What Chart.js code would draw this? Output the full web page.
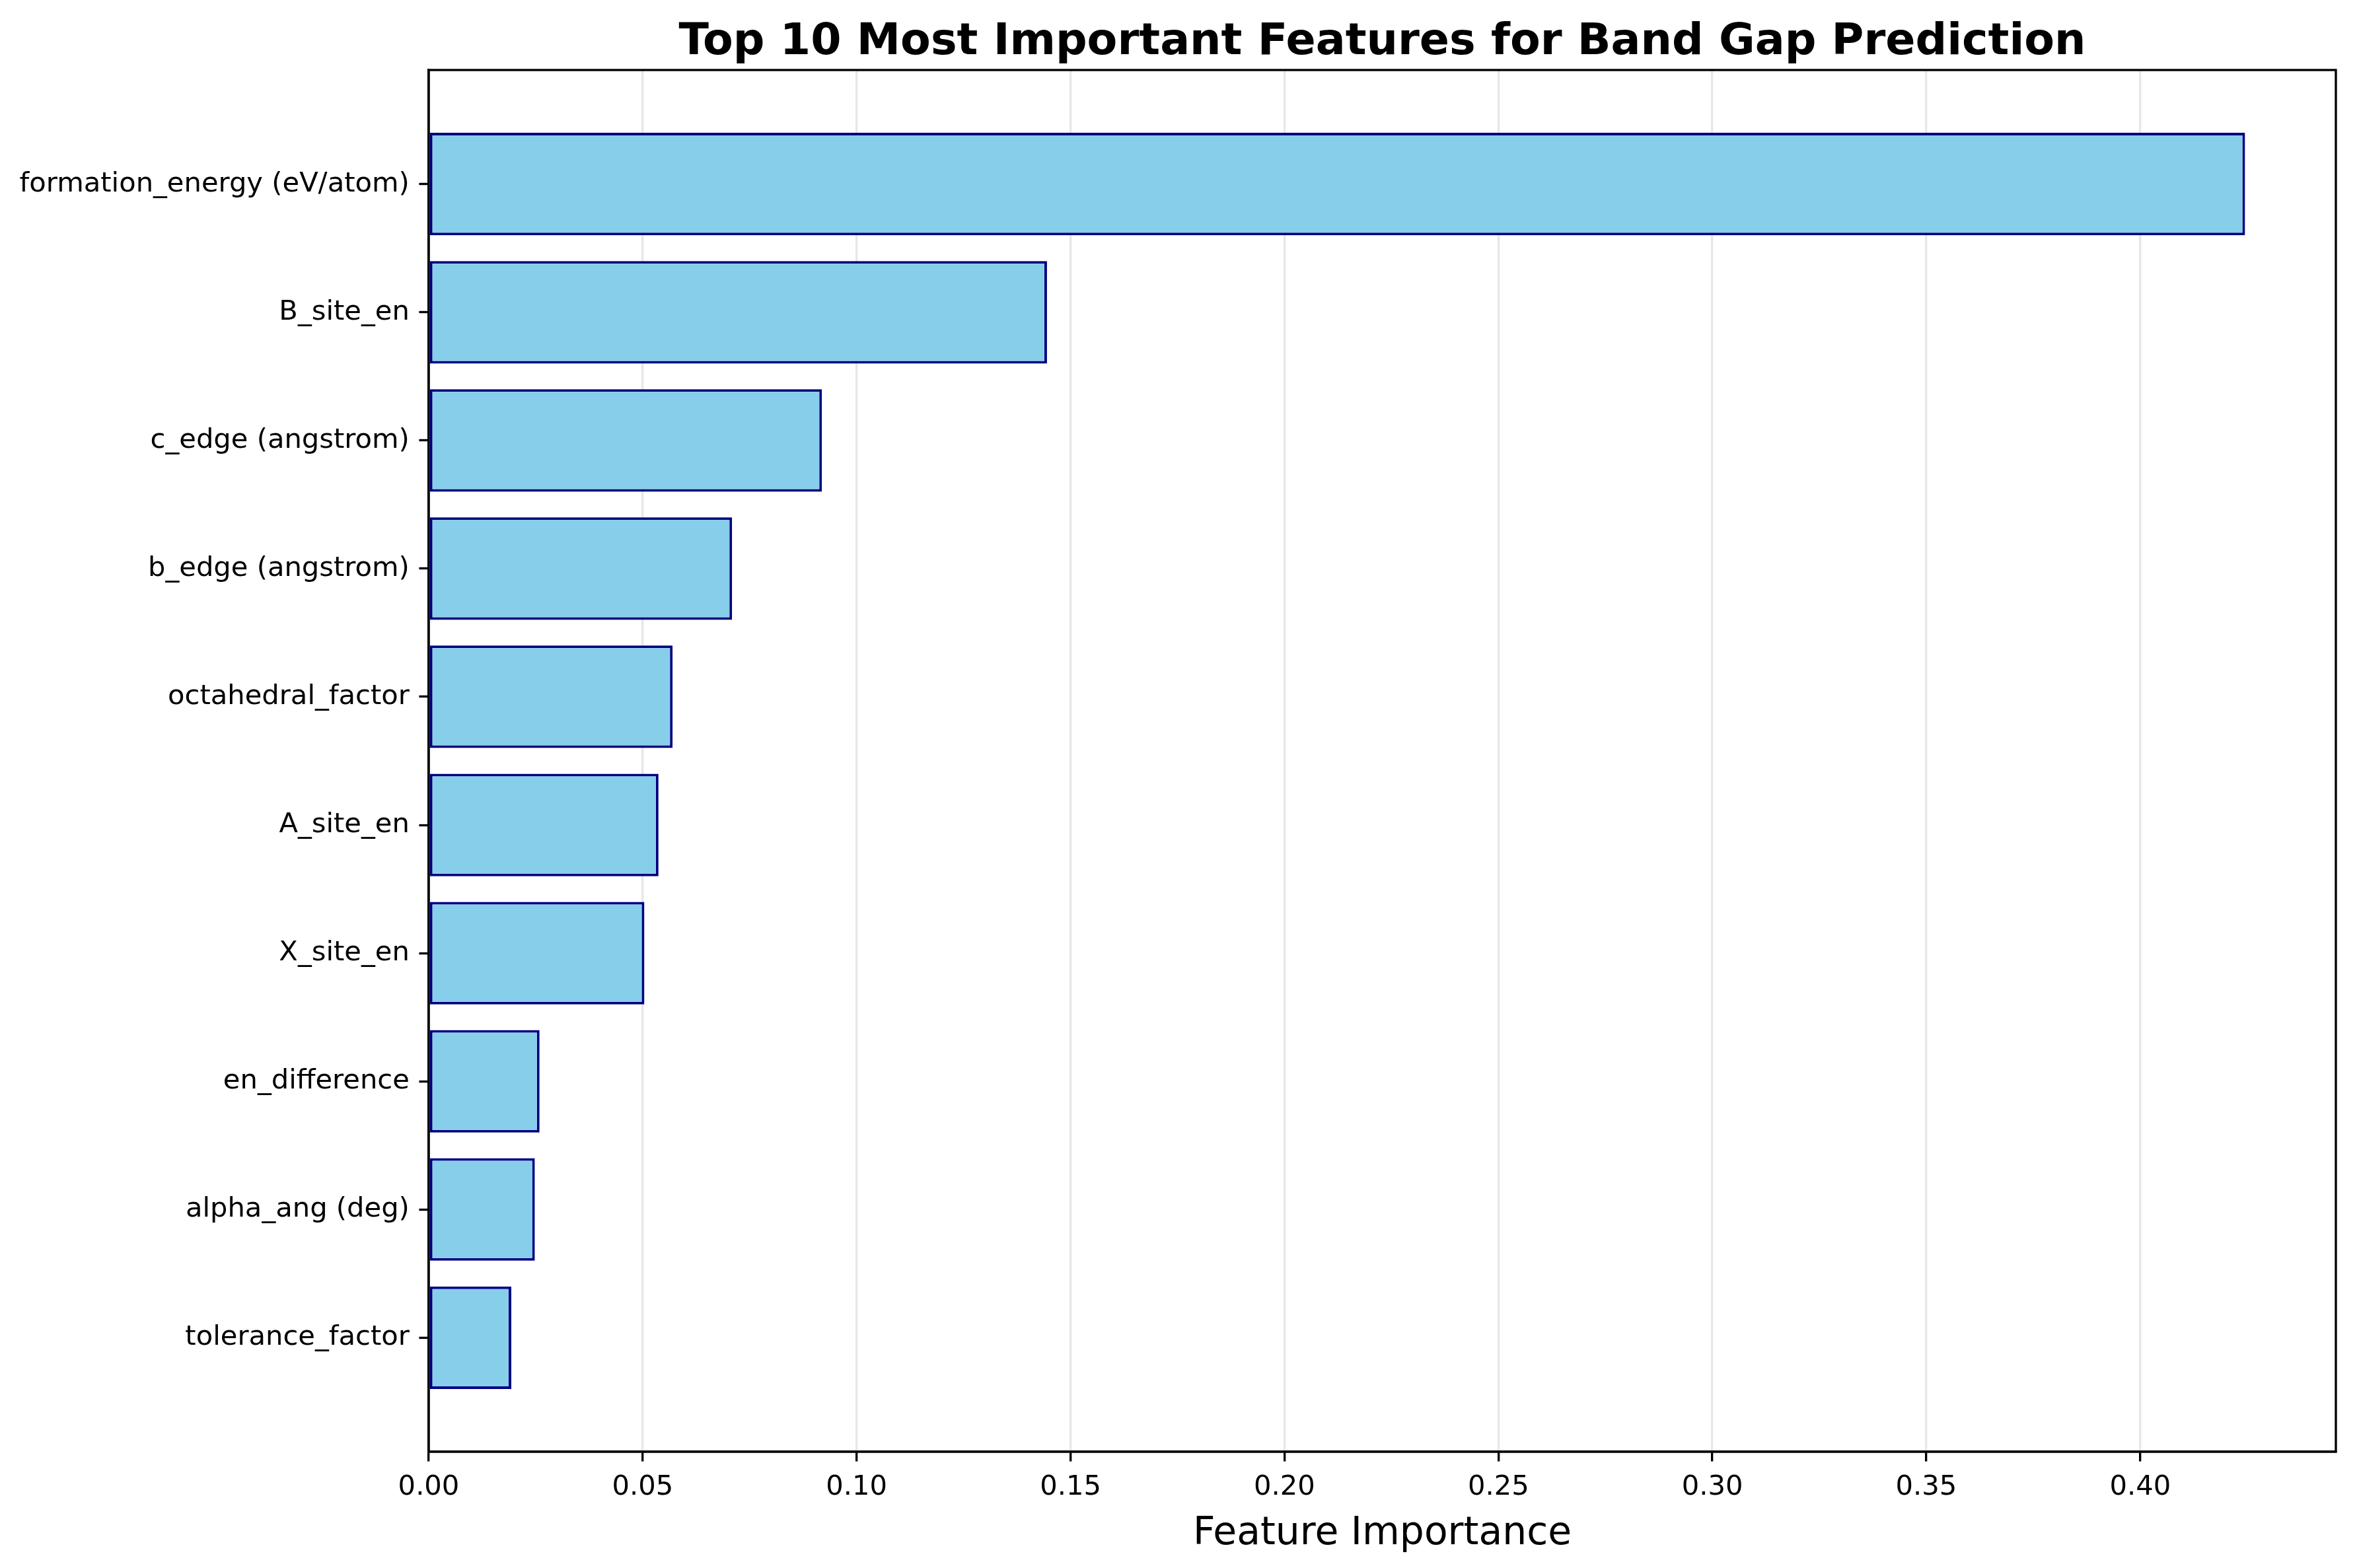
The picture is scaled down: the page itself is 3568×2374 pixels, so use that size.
<!DOCTYPE html>
<html>
<head>
<meta charset="utf-8">
<title>Top 10 Most Important Features for Band Gap Prediction</title>
<script src="https://cdn.jsdelivr.net/npm/chart.js@4/dist/chart.umd.min.js"></script>
<style>
  html, body { margin: 0; padding: 0; background: #ffffff; }
  #chart { display: block; }
</style>
</head>
<body>
<canvas id="chart" width="3568" height="2374"></canvas>
<script>
// Feature importances, top to bottom as drawn
const FEATURES = [
    'formation_energy (eV/atom)',
    'B_site_en',
    'c_edge (angstrom)',
    'b_edge (angstrom)',
    'octahedral_factor',
    'A_site_en',
    'X_site_en',
    'en_difference',
    'alpha_ang (deg)',
    'tolerance_factor'
];
const IMPORTANCE = [0.4245, 0.1445, 0.0919, 0.0709, 0.0570, 0.0537, 0.0504, 0.0259, 0.0248, 0.0193];
const X_TICKS = [0.00, 0.05, 0.10, 0.15, 0.20, 0.25, 0.30, 0.35, 0.40];

const TITLE = 'Top 10 Most Important Features for Band Gap Prediction';
const X_LABEL = 'Feature Importance';

const FONT = "'DejaVu Sans', 'Liberation Sans', sans-serif";
const PT = 300 / 72;   // reference was rendered at 300 dpi

// matplotlib-like margins: 5% of the data span on each side
const barH = 0.8;
const ySpan = (FEATURES.length - 1) + barH;
const yMin = -barH / 2 - 0.05 * ySpan;
const yMax = FEATURES.length - 1 + barH / 2 + 0.05 * ySpan;
const xMax = Math.max(...IMPORTANCE) * 1.05;

// Axes frame + title, drawn on top of the bars like matplotlib spines
const frameAndTitle = {
    id: 'frameAndTitle',
    afterDraw(chart) {
        const { ctx, chartArea: a } = chart;
        ctx.save();
        ctx.strokeStyle = '#000000';
        ctx.lineWidth = 0.8 * PT;
        ctx.strokeRect(a.left, a.top, a.right - a.left, a.bottom - a.top);

        ctx.fillStyle = '#000000';
        ctx.font = `bold ${16 * PT}px ${FONT}`;
        ctx.textAlign = 'center';
        ctx.textBaseline = 'alphabetic';
        ctx.fillText(TITLE, (a.left + a.right) / 2, 82);
        ctx.restore();
    }
};

new Chart(document.getElementById('chart'), {
    type: 'bar',
    data: {
        datasets: [{
            data: IMPORTANCE.map((v, i) => ({ x: v, y: i })),
            backgroundColor: '#87CEEB',
            borderColor: '#000080',
            borderWidth: 4,
            borderSkipped: false,
            barPercentage: barH,
            categoryPercentage: 1.0
        }]
    },
    options: {
        indexAxis: 'y',
        responsive: false,
        animation: false,
        devicePixelRatio: 1,
        layout: { padding: { left: 0, top: 106, right: 32, bottom: 0 } },
        plugins: {
            legend: { display: false },
            title: { display: false },
            tooltip: { enabled: false }
        },
        scales: {
            x: {
                type: 'linear',
                position: 'bottom',
                min: 0,
                max: xMax,
                z: 1,
                afterFit: s => { s.height = 176; },
                afterBuildTicks: s => { s.ticks = X_TICKS.map(v => ({ value: v })); },
                grid: {
                    color: 'rgba(176,176,176,0.3)',
                    lineWidth: 0.8 * PT,
                    tickColor: '#000000',
                    tickWidth: 0.8 * PT,
                    tickLength: 3.5 * PT
                },
                border: { display: true, color: '#000000', width: 0.8 * PT },
                ticks: {
                    color: '#000000',
                    font: { family: FONT, size: 10 * PT },
                    padding: 3.5 * PT,
                    maxRotation: 0,
                    callback: v => v.toFixed(2)
                },
                title: {
                    display: true,
                    text: X_LABEL,
                    color: '#000000',
                    font: { family: FONT, size: 14 * PT },
                    padding: { top: 0, bottom: 16 }
                }
            },
            y: {
                type: 'linear',
                position: 'left',
                reverse: true,
                offset: false,
                min: yMin,
                max: yMax,
                afterFit: s => { s.width = 649; },
                afterBuildTicks: s => { s.ticks = FEATURES.map((f, i) => ({ value: i })); },
                grid: {
                    offset: false,
                    drawOnChartArea: false,
                    drawTicks: true,
                    tickColor: '#000000',
                    tickWidth: 0.8 * PT,
                    tickLength: 3.5 * PT
                },
                border: { display: true, color: '#000000', width: 0.8 * PT },
                ticks: {
                    color: '#000000',
                    font: { family: FONT, size: 10 * PT },
                    padding: 3.5 * PT,
                    callback: v => FEATURES[v] ?? ''
                }
            }
        }
    },
    plugins: [frameAndTitle]
});
</script>
</body>
</html>
